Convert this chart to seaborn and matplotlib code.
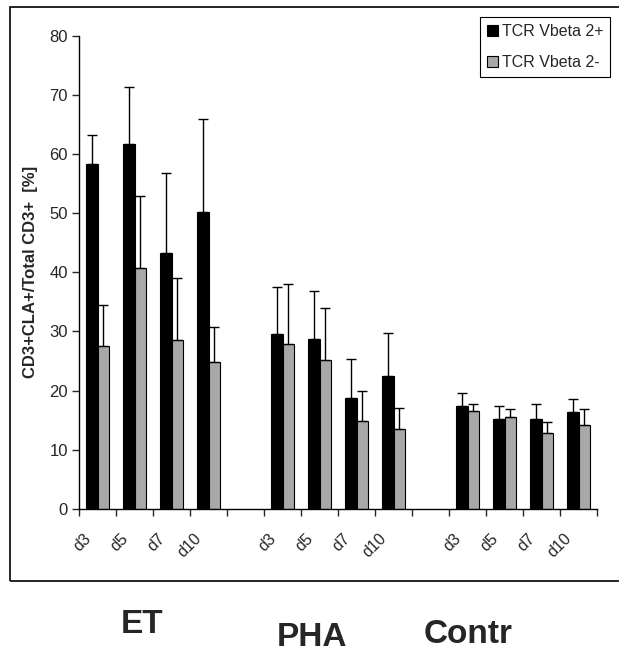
import numpy as np
import pandas as pd
import matplotlib
matplotlib.use('Agg')
import matplotlib.pyplot as plt
import matplotlib.transforms as mtransforms
from matplotlib.patches import Rectangle, Patch
import seaborn as sns

# data
groups = ['ET', 'PHA', 'Contr']
days = ['d3', 'd5', 'd7', 'd10']
series = ['TCR Vbeta 2+', 'TCR Vbeta 2-']

pos_mean = [58.3, 61.8, 43.3, 50.2, 29.5, 28.7, 18.7, 22.5, 17.3, 15.2, 15.2, 16.3]
pos_top = [63.2, 71.4, 56.8, 66.0, 37.6, 36.9, 25.3, 29.8, 19.6, 17.3, 17.7, 18.5]
neg_mean = [27.5, 40.7, 28.6, 24.9, 27.9, 25.1, 14.9, 13.5, 16.5, 15.6, 12.8, 14.2]
neg_top = [34.5, 53.0, 39.0, 30.7, 38.1, 34.0, 19.9, 17.0, 17.7, 16.8, 14.7, 16.8]

# category order, with an empty slot between groups
order = []
tick_labels = []
for i, g in enumerate(groups):
    for d in days:
        order.append(g + ' ' + d)
        tick_labels.append(d)
    if i < len(groups) - 1:
        order.append('gap' + str(i))
        tick_labels.append('')

cats = [g + ' ' + d for g in groups for d in days]
df = pd.DataFrame({
    'cat': cats * 2,
    'series': [series[0]] * len(cats) + [series[1]] * len(cats),
    'value': pos_mean + neg_mean,
    'top': pos_top + neg_top,
})

sns.set_style('white')
plt.rcParams['font.family'] = ['Liberation Sans', 'DejaVu Sans']

fig = plt.figure(figsize=(6.19, 6.53), dpi=100)
ax = fig.add_axes([79 / 619, 144.3 / 653, 518 / 619, 472.7 / 653])

colors = {series[0]: 'black', series[1]: '#a8a8a8'}
sns.barplot(data=df, x='cat', y='value', hue='series', order=order,
            hue_order=series, palette=colors, width=0.6, errorbar=None,
            edgecolor='black', linewidth=0.8, legend=False, ax=ax)

# upper error bars only
for cont, s in zip(ax.containers, series):
    sub = df[df['series'] == s].copy()
    sub['k'] = sub['cat'].map({c: i for i, c in enumerate(order)})
    sub = sub.sort_values('k')
    bars = sorted(cont.patches, key=lambda p: p.get_x())
    xs = [p.get_x() + p.get_width() / 2 for p in bars]
    vals = sub['value'].to_numpy()
    err = sub['top'].to_numpy() - vals
    ax.errorbar(xs, vals, yerr=[np.zeros_like(err), err], fmt='none',
                ecolor='black', elinewidth=1.0, capsize=3.5, capthick=1.0, zorder=3)

ax.set_ylim(0, 80)
ax.set_xlim(-0.5, len(order) - 0.5)
ax.set_yticks(range(0, 81, 10))
ax.tick_params(axis='y', direction='out', length=5, width=1, labelsize=12, pad=3, left=True)

ax.set_xticks(range(len(order)))
ax.set_xticklabels(tick_labels, rotation=45, ha='right', va='center',
                   rotation_mode='anchor', fontsize=11.5)
ax.set_xticks(np.arange(-0.5, len(order), 1), minor=True)
ax.tick_params(axis='x', which='major', length=0, pad=20)
ax.tick_params(axis='x', which='minor', direction='out', length=5, width=1, bottom=True)
shift = mtransforms.ScaledTranslation(-9 / 100, 0, fig.dpi_scale_trans)
for lab in ax.get_xticklabels():
    lab.set_transform(lab.get_transform() + shift)

ax.set_xlabel('')
ax.set_ylabel('CD3+CLA+/Total CD3+  [%]', fontsize=12, fontweight='bold', labelpad=8)

for side in ['top', 'right']:
    ax.spines[side].set_visible(False)
for side in ['left', 'bottom']:
    ax.spines[side].set_color('black')
    ax.spines[side].set_linewidth(1)

handles = [Patch(facecolor=colors[s], edgecolor='black', linewidth=0.8) for s in series]
leg = fig.legend(handles, series, loc='upper left',
                 bbox_to_anchor=(480 / 619, 1 - 17 / 653), fontsize=11.5,
                 handlelength=0.7, handleheight=0.7, handletextpad=0.2,
                 labelspacing=1.0, borderpad=0.45, fancybox=False, framealpha=1,
                 borderaxespad=0)
leg.get_frame().set_edgecolor('black')
leg.get_frame().set_linewidth(0.8)

# outer frame, running off the right edge
fig.patches.append(Rectangle((10 / 619, 72 / 653), 1.0, 574 / 653,
                             transform=fig.transFigure, fill=False,
                             edgecolor='black', linewidth=1.2, clip_on=False))

# group labels under the chart
group_x = [142, 312, 468]
group_base = [633, 646, 643]
for g, gx, gy in zip(groups, group_x, group_base):
    fig.text(gx / 619, 1 - gy / 653, g, ha='center', va='baseline',
             fontsize=24, fontweight='bold')

fig.savefig('out.png', dpi=100)
